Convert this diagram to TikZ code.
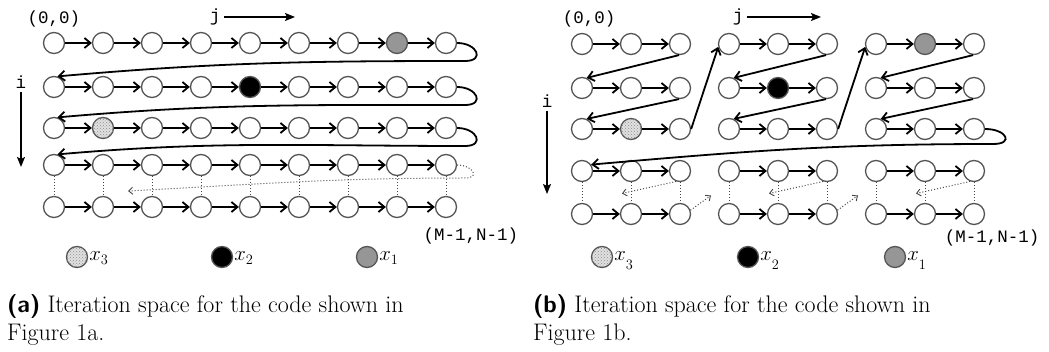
\documentclass[tikz,border=0pt]{standalone}
\usepackage{fontspec}
\usepackage{tikz}
\usetikzlibrary{arrows.meta,calc,patterns}
\newfontfamily\codefont{Liberation Mono}
\definecolor{borde}{RGB}{85,85,85}
\definecolor{grisx}{RGB}{150,150,150}
\definecolor{claro}{RGB}{225,225,225}
\definecolor{punteado}{RGB}{70,70,70}

\begin{document}
\begin{tikzpicture}[x=1pt,y=1pt,
		pt/.style={circle,draw=borde,line width=1.3pt,minimum size=21pt,inner sep=0pt,fill=white},
		ptuno/.style={fill=grisx},
		ptdos/.style={fill=black},
		pttres/.style={fill=claro,postaction={pattern=crosshatch dots,pattern color=black!45}},
		sel a-1-8/.style={ptuno},sel a-2-5/.style={ptdos},sel a-3-2/.style={pttres},
		sel b-1-8/.style={ptuno},sel b-2-5/.style={ptdos},sel b-3-2/.style={pttres},
		paso/.style={line width=1.8pt,-{Straight Barb[length=6pt,width=10pt]}},
		puntos/.style={punteado,line width=1pt,dotted},
		vuelta/.style={puntos,-{Straight Barb[length=4pt,width=7pt,line width=0.9pt]}},
		eje/.style={line width=1.4pt,-{Stealth[length=10pt,width=8pt,inset=2pt]}},
		etiq/.style={font=\codefont\fontsize{17.5}{20}\selectfont},
		leyenda/.style={anchor=base west,yshift=-4pt,inner sep=1pt,font=\fontsize{20}{22}\selectfont},
		pie/.style={anchor=base west,inner sep=0pt,font=\fontsize{24}{28}\selectfont}]
	\useasboundingbox (0,0) rectangle (1049,-352);

	\foreach \f/\y in {1/43,2/87,3/128,4/165,5/207}
		\foreach \c in {1,...,9}
			\node[pt,sel a-\f-\c/.try] (a-\f-\c) at ({54+49*(\c-1)},-\y) {};
	\foreach \f in {1,...,5}
		\foreach \c [count=\d from 2] in {1,...,8}
			\draw[paso] (a-\f-\c) -- (a-\f-\d);
	\foreach \f [count=\g from 2] in {1,2,3}{
		\coordinate (giro-a\f) at ($(a-\f-9.east)+(8,-18)$);
		\draw[paso] (a-\f-9.east) to[out=0,in=0,looseness=2.6] (giro-a\f) to[out=180,in=5] (a-\g-1.72);
	}
	\foreach \c in {1,...,9}
		\draw[puntos] (a-4-\c) -- (a-5-\c);
	\coordinate (giro-a4) at ($(a-4-9.east)+(8,-13)$);
	\coordinate (fin-a) at ($(a-4-2)!.5!(a-5-2)+(25,-5)$);
	\draw[vuelta] (a-4-9.east) to[out=0,in=0,looseness=2.6] (giro-a4) to[out=180,in=3] (fin-a);

	\node[etiq] (origen-a) at (54,-19) {(0,0)};
	\node[etiq] (j-a) at (215,-17) {j};
	\coordinate (jfin-a) at (295,-17);
	\draw[eje] (j-a.east) -- (jfin-a);
	\node[etiq] (i-a) at (21,-82) {i};
	\coordinate (ifin-a) at (21,-167);
	\draw[eje] (i-a.south) -- (ifin-a);
	\node[etiq] (fin-texto-a) at (471,-236) {(M-1,N-1)};

	\node[pt,pttres] (l3-a) at (77,-257) {};
	\node[leyenda] (x3-a) at (l3-a.east) {$x_3$};
	\node[pt,ptdos] (l2-a) at (222,-257) {};
	\node[leyenda] (x2-a) at (l2-a.east) {$x_2$};
	\node[pt,ptuno] (l1-a) at (367,-257) {};
	\node[leyenda] (x1-a) at (l1-a.east) {$x_1$};

	\node[pie] (pie-a1) at (7,-313) {\textsf{\bfseries(a)} Iteration space for the code shown in};
	\node[pie] (pie-a2) at (7,-341) {Figure 1a.};

	\foreach \f/\y in {1/44,2/88,3/129,4/171,5/214}
		\foreach \c in {1,...,9}
			\node[pt,sel b-\f-\c/.try] (b-\f-\c) at ({582+49*(\c-1)},-\y) {};
	\foreach \f in {1,...,5}
		\foreach \c/\d in {1/2,2/3,4/5,5/6,7/8,8/9}
			\draw[paso] (b-\f-\c) -- (b-\f-\d);
	\foreach \g/\p in {3/1,6/4,9/7}
		\foreach \f [count=\h from 2] in {1,2}
			\draw[paso] (b-\f-\g.265) -- (b-\h-\p.65);
	\foreach \g/\p in {3/4,6/7}
		\draw[paso] (b-3-\g.east) -- (b-1-\p.195);
	\coordinate (giro-b) at ($(b-3-9.east)+(8,-15)$);
	\draw[paso] (b-3-9.east) to[out=0,in=0,looseness=3.2] (giro-b) to[out=180,in=5] (b-4-1.35);
	\foreach \c in {1,...,9}
		\draw[puntos] (b-4-\c) -- (b-5-\c);
	\foreach \g/\m in {3/2,6/5,9/8}{
		\coordinate (ret-\g) at ($(b-4-\m)!.5!(b-5-\m)+(-9,-1)$);
		\draw[vuelta] (b-4-\g.250) -- (ret-\g);
	}
	\foreach \g/\n in {3/4,6/7}{
		\coordinate (sube-\g) at ($(b-4-\n)!.5!(b-5-\n)+(-18,-3)$);
		\draw[vuelta] (b-5-\g.20) -- (sube-\g);
	}

	\node[etiq] (origen-b) at (589,-19) {(0,0)};
	\node[etiq] (j-b) at (738,-17) {j};
	\coordinate (jfin-b) at (821,-17);
	\draw[eje] (j-b.east) -- (jfin-b);
	\node[etiq] (i-b) at (547,-101) {i};
	\coordinate (ifin-b) at (547,-194);
	\draw[eje] (i-b.south) -- (ifin-b);
	\node[etiq] (fin-texto-b) at (992,-238) {(M-1,N-1)};

	\node[pt,pttres] (l3-b) at (602,-257) {};
	\node[leyenda] (x3-b) at (l3-b.east) {$x_{\raisebox{-5pt}{$\scriptstyle 3$}}$};
	\node[pt,ptdos] (l2-b) at (748,-257) {};
	\node[leyenda] (x2-b) at (l2-b.east) {$x_{\raisebox{-5pt}{$\scriptstyle 2$}}$};
	\node[pt,ptuno] (l1-b) at (895,-257) {};
	\node[leyenda] (x1-b) at (l1-b.east) {$x_{\raisebox{-5pt}{$\scriptstyle 1$}}$};

	\node[pie] (pie-b1) at (533,-313) {\textsf{\bfseries(b)} Iteration space for the code shown in};
	\node[pie] (pie-b2) at (533,-341) {Figure 1b.};
\end{tikzpicture}
\end{document}
